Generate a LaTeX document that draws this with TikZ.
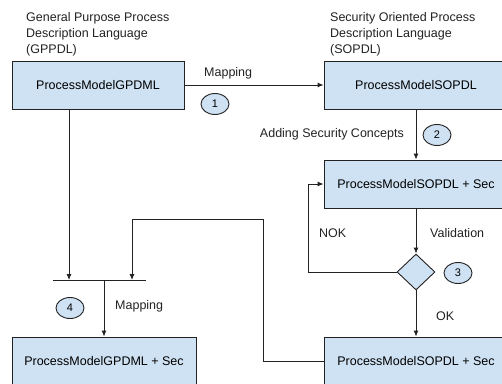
\documentclass[tikz,border=0pt]{standalone}
\usepackage{fontspec}
\setmainfont{Liberation Sans}
\usetikzlibrary{shapes.geometric,arrows.meta}
\definecolor{blockblue}{HTML}{CFE2F3}
\definecolor{inkgray}{HTML}{222222}

\begin{document}
\begin{tikzpicture}[x=1pt,y=-1pt,
    modelbox/.style={draw=inkgray,fill=blockblue,line width=0.9pt,minimum height=48pt,inner sep=0pt,font=\fontsize{12.5}{15}\selectfont},
    stepno/.style={draw=inkgray,fill=blockblue,ellipse,line width=0.9pt,minimum width=28pt,minimum height=21pt,inner sep=0pt,font=\fontsize{11}{13}\selectfont},
    lbl/.style={font=\fontsize{12.5}{15}\selectfont,inner sep=0pt,text=inkgray},
    flow/.style={draw=inkgray,line width=0.9pt,-{Latex[length=6pt,width=5pt]}}]
    \useasboundingbox (0,0) rectangle (502,383);
    \clip (0,0) rectangle (502,383);

    % language titles
    \node[lbl,align=left,anchor=north west] (gptitle) at (26,12) {General Purpose Process\\[1pt]Description Language\\[1pt](GPPDL)};
    \node[lbl,align=left,anchor=north west] (sotitle) at (330,12) {Security Oriented Process\\[1pt]Description Language\\[1pt](SOPDL)};

    % models
    \node[modelbox,minimum width=172pt] (gpdml) at (98,85) {ProcessModelGPDML};
    \node[modelbox,minimum width=184pt] (sopdl) at (416,85) {ProcessModelSOPDL};
    \node[modelbox,minimum width=184pt] (sopdlsec) at (416,184) {ProcessModelSOPDL + Sec};
    \node[draw=inkgray,fill=blockblue,diamond,line width=0.9pt,minimum width=38pt,minimum height=36pt,inner sep=0pt] (check) at (416,272) {};
    \node[modelbox,minimum width=184pt] (sopdlout) at (416,361) {ProcessModelSOPDL + Sec};
    \node[modelbox,minimum width=184pt] (gpdmlsec) at (104,361) {ProcessModelGPDML + Sec};

    % step numbers and labels
    \node[stepno] (n1) at (215,104) {1};
    \node[stepno] (n2) at (437,135) {2};
    \node[stepno] (n3) at (458,273) {3};
    \node[stepno] (n4) at (70,308) {4};
    \node[lbl,anchor=west] (map1) at (204,73) {Mapping};
    \node[lbl,anchor=east] (adding) at (404,134) {Adding Security Concepts};
    \node[lbl,anchor=west] (valid) at (430,233) {Validation};
    \node[lbl,anchor=west] (nok) at (319,233) {NOK};
    \node[lbl,anchor=west] (ok) at (436,316) {OK};
    \node[lbl,anchor=west] (map2) at (115,306) {Mapping};

    % join bar
    \coordinate (barL) at (53,280);
    \coordinate (barR) at (146,280);
    \coordinate (joinL) at (69,280);
    \coordinate (joinR) at (132,280);
    \coordinate (barM) at (104,280);
    \coordinate (nokturn) at (308,272);
    \coordinate (backup) at (263,219);

    \draw[flow] (gpdml.east) -- (sopdl.west);
    \draw[flow] (sopdl.south) -- (sopdlsec.north);
    \draw[flow] (sopdlsec.south) -- (check.north);
    \draw[flow] (check.south) -- (sopdlout.north);
    \draw[flow] (check.west) -- (nokturn) |- (sopdlsec.west);
    \draw[flow] (sopdlout.west) -| (backup) -| (joinR);
    \draw[flow] (gpdml.south -| joinL) -- (joinL);
    \draw[draw=inkgray,line width=0.9pt] (barL) -- (barR);
    \draw[flow] (barM) -- (gpdmlsec.north);
\end{tikzpicture}
\end{document}
